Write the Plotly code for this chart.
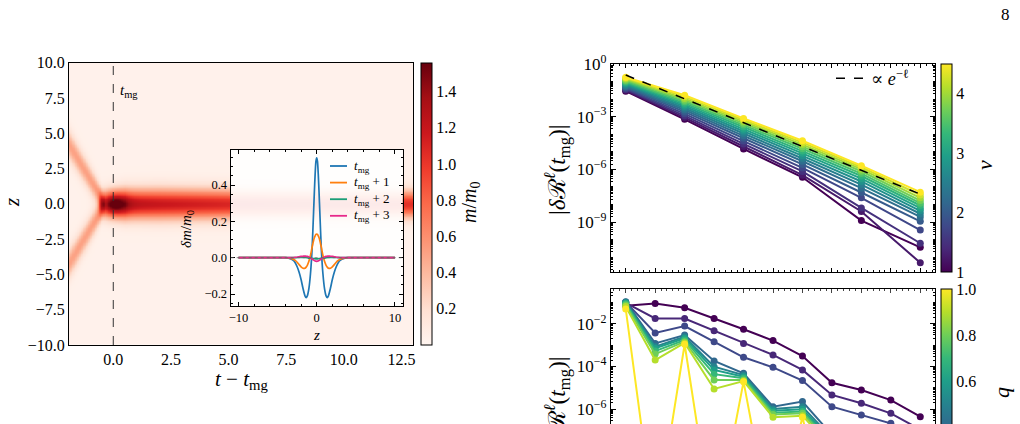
import numpy as np
import plotly.graph_objects as go
from plotly.colors import sample_colorscale

W, H = 1020, 424
FONT = "'Liberation Serif', 'Times New Roman', 'DejaVu Serif', serif"


def px(x):
    return x / W


def py(y):
    return 1 - y / H


# ---------------- heatmap (m/m0 over t - t_mg and z), parameters
T_RANGE = [-1.92, 13.0]
Z_RANGE = [-10.0, 10.0]
BACKGROUND = 0.035
BRANCH_T = [-1.92, -1.0, -0.55, -0.35]
BRANCH_CENTER = [4.19, 1.72, 0.51, 0.0]
BRANCH_PEAK = [0.47, 0.48, 0.50, 0.0]
BRANCH_SIGMA = [0.70, 0.62, 0.52, 0.45]
BAND_T = [-1.92, -0.7, -0.4, 0.5, 2.0, 5.0, 13.0]
BAND_PEAK = [0.0, 0.0, 0.8, 1.22, 1.15, 1.06, 1.0]
BAND_SIGMA = [0.5, 0.5, 0.6, 0.70, 0.72, 0.70, 0.64]
CORE_PEAK = 0.65
CORE_SIGMA_T = 0.38
CORE_SIGMA_Z = 0.6
M_MAX = 1.56
CBAR_TICKS = [0.2, 0.4, 0.6, 0.8, 1.0, 1.2, 1.4]
HX_TICKS = [0.0, 2.5, 5.0, 7.5, 10.0, 12.5]
HY_TICKS = [-10.0, -7.5, -5.0, -2.5, 0.0, 2.5, 5.0, 7.5, 10.0]

# ---------------- inset: delta m / m0 vs z (positive half, symmetric)
Z_HALF = [0, 0.1, 0.2, 0.3, 0.4, 0.6, 0.8, 1.0, 1.2, 1.35, 1.5, 1.75, 2.0, 2.25,
          2.5, 2.75, 3.0, 3.5, 4.0, 10.0]
DM_T0 = [0.55, 0.53, 0.46, 0.36, 0.25, 0.04, -0.09, -0.17, -0.21, -0.22, -0.21,
         -0.17, -0.12, -0.08, -0.05, -0.028, -0.015, -0.004, 0.0, 0.0]
DM_T1 = [0.13, 0.128, 0.12, 0.11, 0.095, 0.055, 0.012, -0.02, -0.042, -0.052,
         -0.058, -0.058, -0.05, -0.038, -0.025, -0.015, -0.008, -0.002, 0.0, 0.0]
DM_T2 = [-0.006, -0.006, -0.006, -0.005, -0.005, -0.004, -0.003, -0.002, 0.0,
         0.001, 0.002, 0.002, 0.002, 0.001, 0.001, 0.0, 0.0, 0.0, 0.0, 0.0]
DM_T3 = [-0.02, -0.019, -0.018, -0.016, -0.013, -0.007, -0.001, 0.004, 0.007,
         0.008, 0.009, 0.008, 0.007, 0.005, 0.003, 0.002, 0.001, 0.0, 0.0, 0.0]
INSET_NAMES = ["<i>t</i><sub>mg</sub>", "<i>t</i><sub>mg</sub> + 1",
               "<i>t</i><sub>mg</sub> + 2", "<i>t</i><sub>mg</sub> + 3"]
INSET_COLORS = ["#1f77b4", "#ff7f0e", "#1b9e77", "#e7298a"]

# ---------------- top right: |dR^l(t_mg)| vs l for several v (log10 values)
L_TOP = [2, 4, 6, 8, 10, 12]
V_VALUES = [1.0, 1.25, 1.5, 1.75, 2.0, 2.25, 2.5, 2.75, 3.0, 3.25, 3.5, 3.75, 4.0, 4.25, 4.5]
LOG_R_TOP = [
    [-1.55, -3.15, -4.84, -6.45, -8.92, -10.44],
    [-1.50, -3.05, -4.70, -6.33, -8.40, -11.32],
    [-1.45, -2.95, -4.55, -6.12, -8.20, -10.21],
    [-1.40, -2.84, -4.39, -5.92, -7.62, -9.46],
    [-1.34, -2.73, -4.23, -5.72, -7.32, -8.96],
    [-1.28, -2.62, -4.09, -5.54, -7.07, -8.71],
    [-1.22, -2.52, -3.96, -5.38, -6.87, -8.53],
    [-1.16, -2.42, -3.83, -5.23, -6.69, -8.36],
    [-1.10, -2.33, -3.71, -5.09, -6.53, -8.21],
    [-1.04, -2.24, -3.59, -4.96, -6.38, -8.06],
    [-0.98, -2.15, -3.48, -4.83, -6.24, -7.93],
    [-0.92, -2.06, -3.38, -4.71, -6.11, -7.78],
    [-0.86, -1.97, -3.28, -4.59, -5.99, -7.62],
    [-0.80, -1.87, -3.19, -4.48, -5.88, -7.46],
    [-0.75, -1.78, -3.10, -4.37, -5.79, -7.30],
]
LOG_EXP_REF = [-0.63, -1.99, -3.34, -4.70, -6.05, -7.41]
V_RANGE = [1.0, 4.5]

# ---------------- bottom right: |dR^l(t_mg)| vs l for several q (log10 values)
L_BOT = [2, 3, 4, 5, 6, 7, 8, 9, 10, 11, 12]
Q_VALUES = [0.1, 0.2, 0.3, 0.4, 0.5, 0.6, 0.7, 0.8, 0.9, 1.0]
LOG_R_BOT = [
    [-1.16, -1.05, -1.25, -1.75, -2.26, -2.79, -3.51, -4.76, -5.10, -5.57, -6.35],
    [-1.02, -1.75, -1.76, -2.33, -2.92, -3.46, -4.16, -5.33, -5.72, -6.19, -6.95],
    [-0.99, -2.43, -2.11, -2.84, -3.57, -4.04, -4.66, -5.88, -6.27, -6.66, -7.25],
    [-0.97, -2.92, -2.53, -3.74, -4.32, -5.88, -5.64, -7.20, -7.00, -8.30, -8.60],
    [-1.00, -3.07, -2.61, -4.01, -4.40, -5.99, -5.88, -7.35, -7.20, -8.45, -8.80],
    [-1.03, -3.15, -2.68, -4.16, -4.48, -6.07, -6.00, -7.45, -7.30, -8.55, -8.90],
    [-1.07, -3.28, -2.76, -4.36, -4.55, -6.16, -6.11, -7.55, -7.40, -8.65, -9.00],
    [-1.12, -3.42, -2.84, -4.63, -4.63, -6.25, -6.19, -7.65, -7.50, -8.75, -9.10],
    [-1.20, -3.70, -2.90, -5.05, -4.68, -6.37, -6.30, -7.80, -7.60, -8.90, -9.20],
    [-1.31, -11.6, -2.96, -11.9, -4.71, -12.0, -6.37, -12.2, -8.00, -12.4, -9.50],
]
Q_RANGE = [0.1, 1.0]

REDS = ["#fff5f0", "#fee0d2", "#fcbba1", "#fc9272", "#fb6a4a", "#ef3b2c",
        "#cb181d", "#a50f15", "#67000d"]
REDS_SCALE = [[i / (len(REDS) - 1), c] for i, c in enumerate(REDS)]

# ---------------- build heatmap field from the read parameters
t = np.linspace(T_RANGE[0], T_RANGE[1], 500)
z = np.linspace(Z_RANGE[0], Z_RANGE[1], 361)
TT, ZZ = np.meshgrid(t, z)
bA = np.interp(t, BRANCH_T, BRANCH_PEAK, right=0.0)
bC = np.interp(t, BRANCH_T, BRANCH_CENTER)
bS = np.interp(t, BRANCH_T, BRANCH_SIGMA)
field = np.full_like(TT, BACKGROUND)
field += bA * (np.exp(-(ZZ - bC) ** 2 / (2 * bS ** 2)) + np.exp(-(ZZ + bC) ** 2 / (2 * bS ** 2)))
nA = np.interp(t, BAND_T, BAND_PEAK)
nS = np.interp(t, BAND_T, BAND_SIGMA)
field += nA * np.exp(-ZZ ** 2 / (2 * nS ** 2))
field += CORE_PEAK * np.exp(-TT ** 2 / (2 * CORE_SIGMA_T ** 2) - ZZ ** 2 / (2 * CORE_SIGMA_Z ** 2))
field = np.clip(field, 0, M_MAX)

fig = go.Figure()


def cbar(x0, y0, ticks, labels):
    return dict(x=px(x0), xanchor="left", y=py(y0), yanchor="top",
                len=207.7 / H, lenmode="fraction", thickness=11,
                thicknessmode="pixels", xpad=0, ypad=0, outlinewidth=1,
                outlinecolor="black", tickmode="array", tickvals=ticks, ticktext=labels,
                ticks="", tickfont=dict(family=FONT, size=16, color="black"))


hm_cb = cbar(421, 62.7, CBAR_TICKS, [f"{v:.1f}" for v in CBAR_TICKS])
hm_cb["len"] = (345 - 62.7) / H
fig.add_trace(go.Heatmap(
    x=t, y=z, z=field, colorscale=REDS_SCALE, zmin=0, zmax=M_MAX, zsmooth="best",
    xaxis="x", yaxis="y", hoverinfo="skip", colorbar=hm_cb))

# inset lines
z_full = [-v for v in Z_HALF[::-1]] + Z_HALF[1:]
for name, col, arr in zip(INSET_NAMES, INSET_COLORS, [DM_T0, DM_T1, DM_T2, DM_T3]):
    y_full = arr[::-1] + arr[1:]
    fig.add_trace(go.Scatter(x=z_full, y=y_full, mode="lines", name=name,
                             line=dict(color=col, width=1.7, shape="spline", smoothing=0.6),
                             xaxis="x2", yaxis="y2", showlegend=False, hoverinfo="skip"))

vir = "Viridis"
# top right lines
for i, (v, row) in enumerate(zip(V_VALUES, LOG_R_TOP)):
    col = sample_colorscale(vir, [(v - V_RANGE[0]) / (V_RANGE[1] - V_RANGE[0])])[0]
    marker = dict(size=7, color=col)
    if i == 0:
        marker = dict(size=7, color=[v] * len(row), colorscale=vir, cmin=V_RANGE[0],
                      cmax=V_RANGE[1], showscale=True,
                      colorbar=cbar(940.7, 64, [1, 2, 3, 4], ["1", "2", "3", "4"]))
    fig.add_trace(go.Scatter(x=L_TOP, y=[10 ** r for r in row], mode="lines+markers",
                             line=dict(color=col, width=2), marker=marker,
                             xaxis="x3", yaxis="y3", showlegend=False, hoverinfo="skip"))

fig.add_trace(go.Scatter(x=L_TOP, y=[10 ** r for r in LOG_EXP_REF], mode="lines",
                         name="∝ <i>e</i><sup>−ℓ</sup>",
                         line=dict(color="black", width=1.5, dash="dash"),
                         xaxis="x3", yaxis="y3", showlegend=True, hoverinfo="skip"))

# bottom right lines
for i, (q, row) in enumerate(zip(Q_VALUES, LOG_R_BOT)):
    col = sample_colorscale(vir, [(q - Q_RANGE[0]) / (Q_RANGE[1] - Q_RANGE[0])])[0]
    marker = dict(size=7, color=col)
    if i == 0:
        marker = dict(size=7, color=[q] * len(row), colorscale=vir, cmin=Q_RANGE[0],
                      cmax=Q_RANGE[1], showscale=True,
                      colorbar=cbar(940.7, 289.3, [0.2, 0.4, 0.6, 0.8, 1.0],
                                    ["0.2", "0.4", "0.6", "0.8", "1.0"]))
    fig.add_trace(go.Scatter(x=L_BOT, y=[10 ** r for r in row], mode="lines+markers",
                             line=dict(color=col, width=2), marker=marker,
                             xaxis="x4", yaxis="y4", showlegend=False, hoverinfo="skip"))

axis_common = dict(showline=True, linecolor="black", linewidth=1.2, zeroline=False,
                   showgrid=False, color="black")


def fmt(v):
    return f"{v:.1f}".replace("-", "−")


fig.update_layout(
    width=W, height=H, margin=dict(l=0, r=0, t=0, b=0, autoexpand=False),
    paper_bgcolor="white", plot_bgcolor="rgba(255,255,255,0.9)",
    font=dict(family=FONT, size=16, color="black"),
    xaxis=dict(domain=[px(69), px(413)], range=T_RANGE, anchor="y", mirror=True,
               tickmode="array", tickvals=HX_TICKS, ticktext=[fmt(v) for v in HX_TICKS],
               ticks="", tickfont=dict(size=16), **axis_common),
    yaxis=dict(domain=[py(345), py(62.7)], range=Z_RANGE, anchor="x", mirror=True,
               tickmode="array", tickvals=HY_TICKS, ticktext=[fmt(v) for v in HY_TICKS],
               ticks="", tickfont=dict(size=16), **axis_common),
    xaxis2=dict(domain=[px(230.7), px(402.7)], range=[-11, 11], anchor="y2",
                mirror="allticks", tickmode="array", tickvals=[-10, 0, 10],
                ticktext=["−10", "0", "10"], ticks="inside", ticklen=4, tickwidth=1,
                minor=dict(tickmode="linear", tick0=0, dtick=2, ticks="inside", ticklen=2),
                tickfont=dict(size=12.5), **axis_common),
    yaxis2=dict(domain=[py(306), py(150)], range=[-0.266, 0.593], anchor="x2",
                mirror="allticks", tickmode="array", tickvals=[-0.2, 0.0, 0.2, 0.4],
                ticktext=["−0.2", "0.0", "0.2", "0.4"], ticks="inside", ticklen=4,
                minor=dict(tickmode="linear", tick0=0, dtick=0.05, ticks="inside", ticklen=2),
                tickfont=dict(size=12.5), **axis_common),
    xaxis3=dict(domain=[px(611), px(935)], range=[1.5, 12.5], anchor="y3",
                mirror="allticks", showticklabels=False, tickmode="linear", tick0=0,
                dtick=1, ticks="inside", ticklen=4,
                minor=dict(tickmode="linear", tick0=0, dtick=0.2, ticks="inside", ticklen=2),
                **axis_common),
    yaxis3=dict(domain=[py(271.7), py(64)], type="log", range=[-11.83, 0], anchor="x3",
                mirror="allticks", tickmode="array", tickvals=[1, 1e-3, 1e-6, 1e-9],
                ticktext=["10<sup>0</sup>", "10<sup>−3</sup>", "10<sup>−6</sup>", "10<sup>−9</sup>"],
                ticks="inside", ticklen=5,
                minor=dict(dtick="D1", ticks="inside", ticklen=2),
                tickfont=dict(size=17), **axis_common),
    xaxis4=dict(domain=[px(611), px(935)], range=[1.5, 12.5], anchor="y4", side="top",
                showticklabels=False, tickmode="linear", tick0=0, dtick=1,
                ticks="inside", ticklen=4,
                minor=dict(tickmode="linear", tick0=0, dtick=0.2, ticks="inside", ticklen=2),
                showline=True, linecolor="black", linewidth=1.2, zeroline=False,
                showgrid=False),
    yaxis4=dict(domain=[0, py(289.3)], type="log", range=[-6.69, -0.39], anchor="x4",
                mirror="allticks", tickmode="array", tickvals=[1e-2, 1e-4, 1e-6],
                ticktext=["10<sup>−2</sup>", "10<sup>−4</sup>", "10<sup>−6</sup>"],
                ticks="inside", ticklen=5,
                minor=dict(dtick="D1", ticks="inside", ticklen=2),
                tickfont=dict(size=17), **axis_common),
    legend=dict(x=px(831), y=py(60), xanchor="left", yanchor="top",
                bgcolor="rgba(0,0,0,0)", font=dict(size=18), itemwidth=30),
)

# dashed t_mg line and inset zero line
fig.add_shape(type="line", xref="x", yref="y", x0=0, x1=0, y0=Z_RANGE[0], y1=Z_RANGE[1],
              line=dict(color="#333333", width=1, dash="dash"))
fig.add_shape(type="line", xref="x2", yref="y2", x0=-11, x1=11, y0=0, y1=0,
              line=dict(color="#666666", width=0.8, dash="dot"))

# inset legend (compact, like the reference)
for i, (name, col) in enumerate(zip(INSET_NAMES, INSET_COLORS)):
    yk = 166 + 16.6 * i
    fig.add_shape(type="line", xref="paper", yref="paper", x0=px(330), x1=px(347),
                  y0=py(yk), y1=py(yk), line=dict(color=col, width=1.8))
    fig.add_annotation(text=name, x=px(352), y=py(yk), xref="paper", yref="paper",
                       showarrow=False, xanchor="left", yanchor="middle",
                       font=dict(family=FONT, size=13, color="black"))


def ann(text, x, y, size, angle=0, xanchor="center"):
    fig.add_annotation(text=text, x=px(x), y=py(y), xref="paper", yref="paper",
                       showarrow=False, textangle=angle, xanchor=xanchor, yanchor="middle",
                       font=dict(family=FONT, size=size, color="black"))


fig.add_annotation(text="<i>t</i><sub>mg</sub>", x=0.2, y=8.0, xref="x", yref="y",
                   showarrow=False, xanchor="left", yanchor="middle",
                   font=dict(family=FONT, size=15, color="black"))
ann("<i>t</i> − <i>t</i><sub>mg</sub>", 241, 380, 21)
ann("<i>z</i>", 12, 203, 21, angle=-90)
ann("<i>m</i>/<i>m</i><sub>0</sub>", 470, 203, 20, angle=-90)
ann("<i>δm</i>/<i>m</i><sub>0</sub>", 187, 229, 15, angle=-90)
ann("<i>z</i>", 316, 335, 15)
ann("|<i>δ</i>ℛ<sup><i>ℓ</i></sup>(<i>t</i><sub>mg</sub>)|", 557, 170, 23.5, angle=-90)
ann("|<i>δ</i>ℛ<sup><i>ℓ</i></sup>(<i>t</i><sub>mg</sub>)|", 557, 402, 23.5, angle=-90)
ann("<i>v</i>", 985, 165, 22, angle=-90)
ann("<i>q</i>", 1001, 393, 22, angle=-90)
ann("8", 1005, 14, 17)

fig.write_html("out.html")
